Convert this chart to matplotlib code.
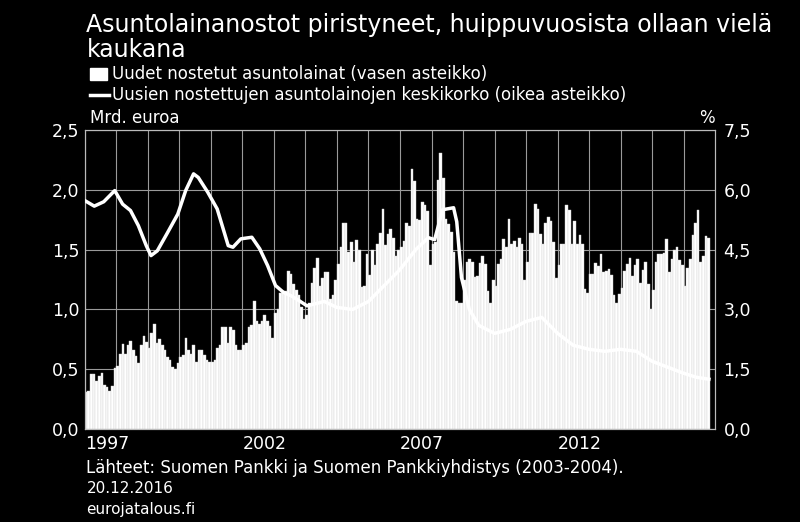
import matplotlib
matplotlib.use("Agg")
import matplotlib.pyplot as plt
import numpy as np

# monthly new housing loans, bn EUR, Jan 1997 - Oct 2016
loans = [
    0.31, 0.32, 0.46, 0.46, 0.40, 0.44, 0.47, 0.37, 0.35, 0.32, 0.36, 0.51,  # 1997
    0.53, 0.63, 0.71, 0.63, 0.70, 0.74, 0.66, 0.61, 0.55, 0.70, 0.78, 0.73,  # 1998
    0.68, 0.80, 0.88, 0.72, 0.75, 0.70, 0.66, 0.60, 0.58, 0.52, 0.50, 0.55,  # 1999
    0.60, 0.62, 0.76, 0.66, 0.63, 0.70, 0.56, 0.66, 0.66, 0.62, 0.58, 0.56,  # 2000
    0.56, 0.58, 0.68, 0.70, 0.85, 0.85, 0.72, 0.85, 0.83, 0.70, 0.66, 0.66,  # 2001
    0.70, 0.72, 0.85, 0.87, 1.07, 0.90, 0.88, 0.90, 0.95, 0.90, 0.86, 0.76,  # 2002
    0.97, 1.00, 1.14, 1.15, 1.15, 1.32, 1.30, 1.21, 1.16, 1.12, 1.02, 0.92,  # 2003
    0.95, 1.05, 1.22, 1.35, 1.43, 1.20, 1.26, 1.31, 1.31, 1.09, 1.12, 1.25,  # 2004
    1.38, 1.52, 1.72, 1.72, 1.48, 1.56, 1.40, 1.58, 1.50, 1.19, 1.20, 1.46,  # 2005
    1.29, 1.50, 1.37, 1.55, 1.64, 1.84, 1.54, 1.63, 1.67, 1.60, 1.45, 1.50,  # 2006
    1.52, 1.57, 1.72, 1.70, 2.17, 2.07, 1.76, 1.75, 1.90, 1.87, 1.82, 1.37,  # 2007
    1.55, 1.56, 2.08, 2.31, 2.10, 1.76, 1.71, 1.65, 1.48, 1.07, 1.05, 1.05,  # 2008
    1.25, 1.40, 1.42, 1.40, 1.27, 1.28, 1.39, 1.45, 1.38, 1.15, 1.05, 1.25,  # 2009
    1.20, 1.38, 1.42, 1.59, 1.52, 1.76, 1.55, 1.57, 1.52, 1.60, 1.55, 1.25,  # 2010
    1.40, 1.64, 1.64, 1.88, 1.84, 1.63, 1.55, 1.72, 1.77, 1.74, 1.56, 1.26,  # 2011
    1.37, 1.55, 1.55, 1.87, 1.83, 1.55, 1.74, 1.55, 1.62, 1.55, 1.17, 1.14,  # 2012
    1.30, 1.30, 1.39, 1.36, 1.46, 1.31, 1.32, 1.34, 1.29, 1.12, 1.05, 1.13,  # 2013
    1.18, 1.32, 1.38, 1.43, 1.28, 1.37, 1.42, 1.22, 1.33, 1.40, 1.21, 1.00,  # 2014
    1.16, 1.40, 1.46, 1.46, 1.47, 1.59, 1.31, 1.42, 1.50, 1.52, 1.41, 1.37,  # 2015
    1.20, 1.35, 1.42, 1.62, 1.72, 1.83, 1.40, 1.45, 1.61, 1.60,              # 2016
]

# average interest rate of new housing loans, %
rate_dates = [1997.0, 1997.3, 1997.6, 1997.95, 1998.2, 1998.45, 1998.7, 1998.95,
              1999.1, 1999.3, 1999.6, 1999.95, 2000.2, 2000.45, 2000.6, 2000.9,
              2001.2, 2001.55, 2001.7, 2001.95, 2002.3, 2002.55, 2002.8, 2003.05,
              2003.3, 2003.55, 2003.8, 2004.05, 2004.3, 2004.6, 2005.0, 2005.5,
              2006.0, 2006.5, 2007.0, 2007.5, 2007.9, 2008.1, 2008.35, 2008.7,
              2008.8, 2008.95, 2009.2, 2009.5, 2010.0, 2010.5, 2011.0, 2011.5,
              2012.0, 2012.5, 2013.0, 2013.5, 2014.0, 2014.5, 2015.0, 2015.5,
              2016.0, 2016.4, 2016.8]
rates = [5.73, 5.59, 5.70, 5.98, 5.64, 5.48, 5.10, 4.60,
         4.35, 4.47, 4.89, 5.39, 5.98, 6.40, 6.31, 5.94,
         5.52, 4.60, 4.56, 4.77, 4.81, 4.52, 4.10, 3.60,
         3.43, 3.34, 3.22, 3.09, 3.14, 3.20, 3.05, 3.00,
         3.20, 3.60, 4.00, 4.50, 4.80, 4.75, 5.50, 5.55,
         5.20, 3.80, 3.00, 2.60, 2.40, 2.50, 2.70, 2.80,
         2.40, 2.10, 2.00, 1.95, 2.00, 1.95, 1.70, 1.55,
         1.40, 1.30, 1.25]

year_labels = ["1997", "2002", "2007", "2012"]
left_ticks = ["0,0", "0,5", "1,0", "1,5", "2,0", "2,5"]
right_ticks = ["0,0", "1,5", "3,0", "4,5", "6,0", "7,5"]

x = 1997 + np.arange(len(loans)) / 12.0

fig = plt.figure(figsize=(8, 5.22), dpi=100, facecolor="black")
ax = fig.add_axes([0.106, 0.178, 0.788, 0.573], facecolor="black")
ax.bar(x, loans, width=1 / 12, align="edge", color="white", edgecolor="#d0d0d0", linewidth=0.3, zorder=2)
ax.set_xlim(1997, 2017)
ax.set_ylim(0, 2.5)
ax.set_yticks(np.arange(0, 2.51, 0.5))
ax.set_yticklabels(left_ticks)
ax.set_xticks(np.arange(1997, 2017))
ax.set_xticklabels([s if str(y) in year_labels else "" for y, s in zip(range(1997, 2017), [str(v) for v in range(1997, 2017)])],
                   ha="left")
ax.grid(True, color="#9a9a9a", linewidth=0.8, zorder=0)
ax.set_axisbelow(True)
for s in ax.spines.values():
    s.set_color("#bbbbbb")
ax.tick_params(colors="white", labelsize=12.5, length=0, pad=4)
for lab in ax.get_xticklabels():
    lab.set_x(lab.get_position()[0])

ax2 = ax.twinx()
ax2.plot(rate_dates, rates, color="white", linewidth=2.5, zorder=3)
ax2.set_ylim(0, 7.5)
ax2.set_yticks(np.arange(0, 7.51, 1.5))
ax2.set_yticklabels(right_ticks)
ax2.tick_params(colors="white", labelsize=12.5, length=0, pad=6)
for s in ax2.spines.values():
    s.set_color("#bbbbbb")

fig.text(0.108, 0.975, "Asuntolainanostot piristyneet, huippuvuosista ollaan vielä\nkaukana",
         color="white", fontsize=17, va="top", linespacing=1.05)
fig.patches.append(plt.Rectangle((0.112, 0.847), 0.022, 0.022, transform=fig.transFigure, color="white"))
fig.text(0.14, 0.858, "Uudet nostetut asuntolainat (vasen asteikko)", color="white", fontsize=12, va="center")
fig.lines.append(plt.Line2D([0.112, 0.136], [0.818, 0.818], transform=fig.transFigure, color="white", linewidth=2.5))
fig.text(0.14, 0.818, "Uusien nostettujen asuntolainojen keskikorko (oikea asteikko)", color="white", fontsize=12, va="center")
fig.text(0.112, 0.773, "Mrd. euroa", color="white", fontsize=12, va="center")
fig.text(0.893, 0.773, "%", color="white", fontsize=12, va="center", ha="right")
fig.text(0.108, 0.104, "Lähteet: Suomen Pankki ja Suomen Pankkiyhdistys (2003-2004).", color="white", fontsize=12, va="center")
fig.text(0.108, 0.064, "20.12.2016", color="white", fontsize=11, va="center")
fig.text(0.108, 0.024, "eurojatalous.fi", color="white", fontsize=11, va="center")

fig.savefig("out.png", dpi=100, facecolor="black")
